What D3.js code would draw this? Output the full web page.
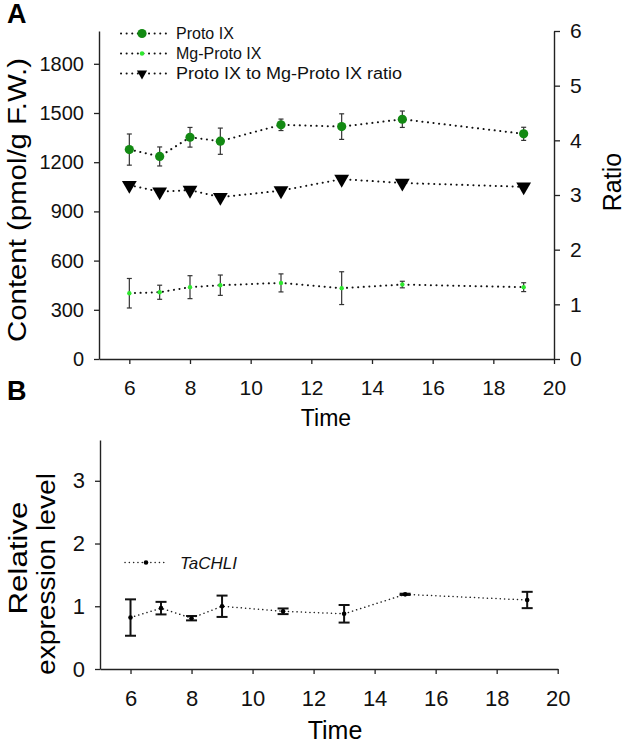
<!DOCTYPE html>
<html>
<head>
<meta charset="utf-8">
<script src="https://cdn.jsdelivr.net/npm/d3@7"></script>
<style>
html,body{margin:0;padding:0;background:#fff;}
svg{display:block;font-family:"Liberation Sans",Arial,sans-serif;}
</style>
</head>
<body>
<svg id="chart" width="625" height="744"></svg>
<script>
// ---- data ----
const times = [6, 7, 8, 9, 11, 13, 15, 19];
const protoIX = [1277, 1235, 1352, 1328, 1428, 1417, 1462, 1373];
const protoIXErr = [95, 58, 60, 80, 35, 78, 50, 40];
const mgProtoIX = [401, 407, 438, 450, 464, 432, 454, 438];
const mgProtoIXErr = [90, 43, 70, 62, 55, 100, 20, 27];
const ratio = [3.18, 3.06, 3.09, 2.96, 3.08, 3.29, 3.22, 3.15];
const chli = [0.82, 0.97, 0.81, 1.00, 0.92, 0.88, 1.19, 1.10];
const chliErr = [0.29, 0.10, 0.035, 0.17, 0.045, 0.14, 0.01, 0.13];
const xTicks = [6, 8, 10, 12, 14, 16, 18, 20];
const contentTicks = [0, 300, 600, 900, 1200, 1500, 1800];
const ratioTicks = [0, 1, 2, 3, 4, 5, 6];
const exprTicks = [0, 1, 2, 3];
const legendA = ["Proto IX", "Mg-Proto IX", "Proto IX to Mg-Proto IX ratio"];
const legendB = ["TaCHLI"];

const svg = d3.select("#chart");
const darkGreen = "#138a13", lightGreen = "#2fe82f", axisCol = "#222";
const fmt = d => String(d);

// ---- scales ----
const xA = d3.scaleLinear().domain([5, 20]).range([99, 554]);
const yA = d3.scaleLinear().domain([0, 2000]).range([359, 31]);
const rA = d3.scaleLinear().domain([0, 6]).range([359, 31]);
const xB = d3.scaleLinear().domain([5, 20]).range([100, 557.7]);
const yB = d3.scaleLinear().domain([0, 3.65]).range([669, 440]);

function styleAxis(g, fs) {
  g.selectAll("path.domain").attr("stroke", axisCol).attr("stroke-width", 1.4);
  g.selectAll(".tick line").attr("stroke", axisCol).attr("stroke-width", 1.3);
  g.selectAll(".tick text").attr("fill", "#111").style("font-size", fs + "px")
    .style("font-family", '"Liberation Sans",Arial,sans-serif');
}

// ---- Panel A axes ----
svg.append("g").attr("transform", "translate(0,359)")
  .call(d3.axisBottom(xA).tickValues(xTicks).tickFormat(fmt).tickSize(5).tickSizeOuter(0).tickPadding(16))
  .call(g => styleAxis(g, 21));
svg.append("g").attr("transform", "translate(99,0)")
  .call(d3.axisLeft(yA).tickValues(contentTicks).tickFormat(fmt).tickSize(5).tickSizeOuter(0).tickPadding(10))
  .call(g => styleAxis(g, 20));
svg.append("g").attr("transform", "translate(554,0)")
  .call(d3.axisRight(rA).tickValues(ratioTicks).tickFormat(fmt).tickSize(6).tickSizeOuter(0).tickPadding(10))
  .call(g => styleAxis(g, 21));

// Titles A
svg.append("text").attr("x", 7).attr("y", 23).text("A")
  .style("font-size", "27px").style("font-weight", "bold");
svg.append("text").attr("x", 326).attr("y", 426).attr("text-anchor", "middle")
  .text("Time").style("font-size", "23px");
svg.append("text").attr("transform", "translate(26,200) rotate(-90)").attr("text-anchor", "middle")
  .attr("textLength", 284).attr("lengthAdjust", "spacingAndGlyphs")
  .text("Content (pmol/g F.W.)").style("font-size", "25px");
svg.append("text").attr("transform", "translate(621,182) rotate(-90)").attr("text-anchor", "middle")
  .text("Ratio").style("font-size", "25px");

// ---- Panel A series ----
const lineA = (ys, sc) => d3.line().x((d, i) => xA(times[i])).y(d => sc(d))(ys);
function dotted(path, w, dash) {
  return svg.append("path").attr("d", path).attr("fill", "none").attr("stroke", "#111")
    .attr("stroke-width", w).attr("stroke-dasharray", dash).attr("stroke-linecap", "round");
}
dotted(lineA(protoIX, yA), 2, "0.1,5.5");
dotted(lineA(mgProtoIX, yA), 2, "0.1,5.5");
dotted(lineA(ratio, rA), 2, "0.1,5.5");

function errA(vals, errs) {
  const g = svg.append("g").attr("stroke", "#333").attr("stroke-width", 1.2);
  times.forEach((t, i) => {
    const x = xA(t), y1 = yA(vals[i] + errs[i]), y2 = yA(vals[i] - errs[i]);
    g.append("line").attr("x1", x).attr("x2", x).attr("y1", y1).attr("y2", y2);
    g.append("line").attr("x1", x - 2.5).attr("x2", x + 2.5).attr("y1", y1).attr("y2", y1);
    g.append("line").attr("x1", x - 2.5).attr("x2", x + 2.5).attr("y1", y2).attr("y2", y2);
  });
}
errA(protoIX, protoIXErr);
errA(mgProtoIX, mgProtoIXErr);

svg.append("g").selectAll("circle").data(protoIX).join("circle")
  .attr("cx", (d, i) => xA(times[i])).attr("cy", d => yA(d)).attr("r", 4.6).attr("fill", darkGreen);
svg.append("g").selectAll("circle").data(mgProtoIX).join("circle")
  .attr("cx", (d, i) => xA(times[i])).attr("cy", d => yA(d)).attr("r", 2.2).attr("fill", lightGreen);
const tri = d3.symbol().type(d3.symbolTriangle).size(95);
svg.append("g").selectAll("path").data(ratio).join("path")
  .attr("d", tri).attr("fill", "#000")
  .attr("transform", (d, i) => `translate(${xA(times[i])},${rA(d)}) rotate(180)`);

// Legend A
const legY = [33.5, 53.5, 73.5];
legendA.forEach((lab, i) => {
  const y = legY[i];
  svg.append("line").attr("x1", 121).attr("x2", 166).attr("y1", y).attr("y2", y)
    .attr("stroke", "#111").attr("stroke-width", 2).attr("stroke-dasharray", "0.1,5.5").attr("stroke-linecap", "round");
  if (i === 0) svg.append("circle").attr("cx", 142).attr("cy", y).attr("r", 4.6).attr("fill", darkGreen);
  if (i === 1) svg.append("circle").attr("cx", 142).attr("cy", y).attr("r", 2.2).attr("fill", lightGreen);
  if (i === 2) svg.append("path").attr("d", d3.symbol().type(d3.symbolTriangle).size(45))
    .attr("transform", `translate(142,${y}) rotate(180)`).attr("fill", "#000");
  const t = svg.append("text").attr("x", 176).attr("y", y + 5.5).text(lab)
    .style("font-size", "16px").attr("fill", "#111");
  if (i === 2) t.attr("textLength", 226).attr("lengthAdjust", "spacingAndGlyphs");
});

// ---- Panel B axes ----
svg.append("g").attr("transform", "translate(0,669)")
  .call(d3.axisBottom(xB).tickValues(xTicks).tickFormat(fmt).tickSize(5).tickSizeOuter(0).tickPadding(16))
  .call(g => styleAxis(g, 22));
svg.append("g").attr("transform", "translate(100,0)")
  .call(d3.axisLeft(yB).tickValues(exprTicks).tickFormat(fmt).tickSize(5).tickSizeOuter(0).tickPadding(10))
  .call(g => styleAxis(g, 22));

svg.append("text").attr("x", 7).attr("y", 400).text("B")
  .style("font-size", "27px").style("font-weight", "bold");
svg.append("text").attr("x", 335).attr("y", 739).attr("text-anchor", "middle")
  .text("Time").style("font-size", "25px");
svg.append("text").attr("transform", "translate(27,558) rotate(-90)").attr("text-anchor", "middle")
  .attr("textLength", 113).attr("lengthAdjust", "spacingAndGlyphs")
  .text("Relative").style("font-size", "25px");
svg.append("text").attr("transform", "translate(55,574) rotate(-90)").attr("text-anchor", "middle")
  .attr("textLength", 202).attr("lengthAdjust", "spacingAndGlyphs")
  .text("expression level").style("font-size", "25px");

// ---- Panel B series ----
svg.append("path").attr("d", d3.line().x((d, i) => xB(times[i])).y(d => yB(d))(chli))
  .attr("fill", "none").attr("stroke", "#222").attr("stroke-width", 1.5)
  .attr("stroke-dasharray", "0.1,4.2").attr("stroke-linecap", "round");
const gB = svg.append("g").attr("stroke", "#111").attr("stroke-width", 2);
times.forEach((t, i) => {
  const x = xB(t), y1 = yB(chli[i] + chliErr[i]), y2 = yB(chli[i] - chliErr[i]);
  gB.append("line").attr("x1", x).attr("x2", x).attr("y1", y1).attr("y2", y2);
  gB.append("line").attr("x1", x - 5.5).attr("x2", x + 5.5).attr("y1", y1).attr("y2", y1);
  gB.append("line").attr("x1", x - 5.5).attr("x2", x + 5.5).attr("y1", y2).attr("y2", y2);
});
svg.append("g").selectAll("circle").data(chli).join("circle")
  .attr("cx", (d, i) => xB(times[i])).attr("cy", d => yB(d)).attr("r", 2.3).attr("fill", "#000");

// Legend B
svg.append("line").attr("x1", 125).attr("x2", 165).attr("y1", 562.5).attr("y2", 562.5)
  .attr("stroke", "#222").attr("stroke-width", 1.5).attr("stroke-dasharray", "0.1,4.2").attr("stroke-linecap", "round");
svg.append("circle").attr("cx", 146).attr("cy", 562.5).attr("r", 2.3).attr("fill", "#000");
svg.append("text").attr("x", 180).attr("y", 568.5).text(legendB[0])
  .style("font-size", "17px").style("font-style", "italic").attr("fill", "#111");
</script>
</body>
</html>
